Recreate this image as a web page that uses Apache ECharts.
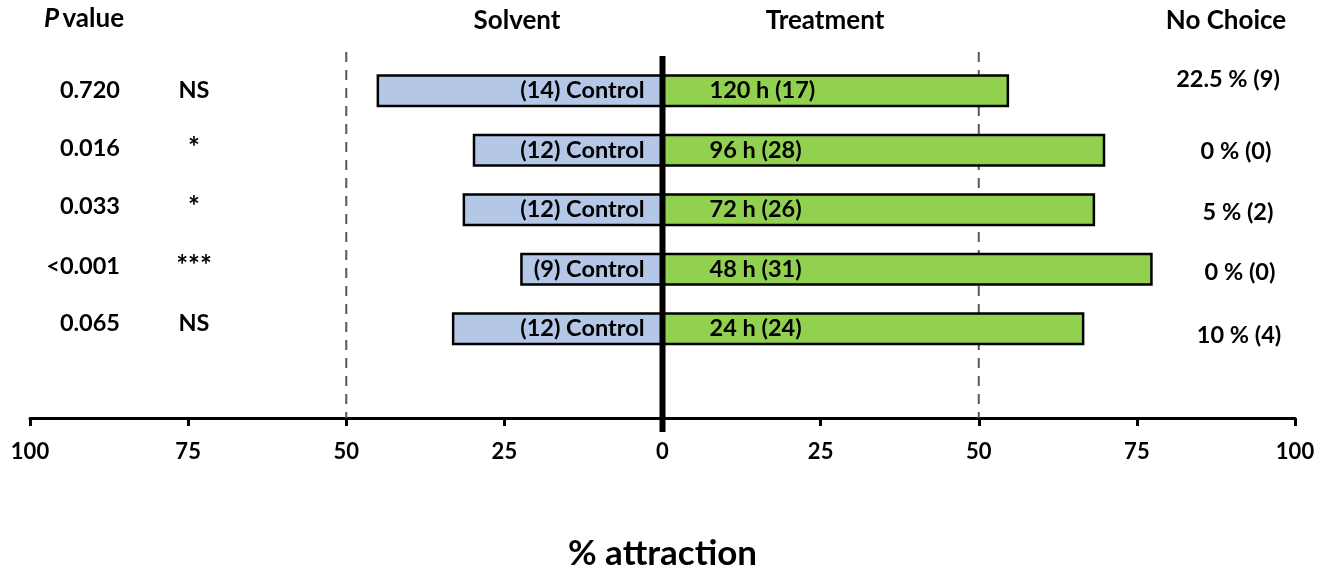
<!DOCTYPE html>
<html>
<head>
<meta charset="utf-8">
<title>% attraction</title>
<script src="https://cdn.jsdelivr.net/npm/echarts@6/dist/echarts.min.js"></script>
<style>
  html, body { margin: 0; padding: 0; background: #ffffff; }
  #chart { width: 1333px; height: 576px; }
</style>
</head>
<body>
<div id="chart"></div>
<script>
// Exposure times, top row first
const categories = ['120 h', '96 h', '72 h', '48 h', '24 h'];
// % of responders choosing each arm
const solventPct = [45.2, 30.0, 31.6, 22.5, 33.3];
const treatmentPct = [54.8, 70.0, 68.4, 77.5, 66.7];
// number of responders per arm
const solventN = [14, 12, 12, 9, 12];
const treatmentN = [17, 28, 26, 31, 24];
// statistics column
const pValues = ['0.720', '0.016', '0.033', '<0.001', '0.065'];
const significance = ['NS', '*', '*', '***', 'NS'];
// non-responders
const noChoice = ['22.5 % (9)', '0 % (0)', '5 % (2)', '0 % (0)', '10 % (4)'];
// axis
const axisMin = -100, axisMax = 100, axisStep = 25;

const FONT = 'Lato';
const BODY = 23.5;
const HEAD = 26;
const TXT = { fontFamily: FONT, fontWeight: 'bold', fontSize: BODY, fill: '#000' };

const chart = echarts.init(document.getElementById('chart'), null, { renderer: 'canvas' });

// one spare slot keeps a gap between the last row and the axis
const yCats = categories.concat(['']);

chart.setOption({
  animation: false,
  backgroundColor: '#ffffff',
  grid: { left: 30, right: 38, top: 61, bottom: 158, containLabel: false },
  xAxis: {
    type: 'value',
    min: axisMin, max: axisMax, interval: axisStep,
    axisLine: { show: true, lineStyle: { color: '#000', width: 3 } },
    axisTick: { show: true, length: 8, lineStyle: { color: '#000', width: 3 } },
    splitLine: { show: false },
    axisLabel: {
      formatter: v => String(Math.abs(v)),
      fontFamily: FONT, fontWeight: 'bold', fontSize: 22, color: '#000', margin: 23
    },
    name: '% attraction',
    nameLocation: 'middle',
    nameGap: 118,
    nameTextStyle: { fontFamily: FONT, fontWeight: 'bold', fontSize: 35, color: '#000' }
  },
  yAxis: {
    type: 'category',
    data: yCats,
    inverse: true,
    axisLine: { show: false },
    axisTick: { show: false },
    axisLabel: { show: false },
    splitLine: { show: false }
  },
  series: [
    {
      name: 'Solvent',
      type: 'bar',
      barWidth: 33,
      barGap: '-100%',
      data: solventPct.map(v => -v),
      itemStyle: { color: '#b4c7e7', borderColor: '#000', borderWidth: 2.5 },
      label: {
        show: true,
        position: 'insideRight',
        distance: 18,
        formatter: p => '(' + solventN[p.dataIndex] + ') Control',
        fontFamily: FONT, fontWeight: 'bold', fontSize: BODY, color: '#000'
      }
    },
    {
      name: 'Treatment',
      type: 'bar',
      barWidth: 33,
      barGap: '-100%',
      data: treatmentPct,
      itemStyle: { color: '#92d050', borderColor: '#000', borderWidth: 2.5 },
      label: {
        show: true,
        position: 'insideLeft',
        distance: 47,
        formatter: p => categories[p.dataIndex] + ' (' + treatmentN[p.dataIndex] + ')',
        fontFamily: FONT, fontWeight: 'bold', fontSize: BODY, color: '#000'
      }
    }
  ]
});

// Reference lines and side columns, placed through the chart's own scales
const xPx = v => chart.convertToPixel({ xAxisIndex: 0 }, v);
const yPx = c => chart.convertToPixel({ yAxisIndex: 0 }, c);
const axisY = yPx(yCats[yCats.length - 1]) + 29.75;

const g = [];
// dashed 50 % guides
[-50, 50].forEach(v => {
  g.push({
    type: 'line', z: 1,
    shape: { x1: xPx(v), y1: 52, x2: xPx(v), y2: axisY },
    style: { stroke: '#595959', lineWidth: 2, lineDash: [10, 8] }
  });
});
// bold zero divider
g.push({
  type: 'line', z: 10,
  shape: { x1: xPx(0), y1: 56, x2: xPx(0), y2: axisY + 14 },
  style: { stroke: '#000', lineWidth: 6 }
});

// column headers
const header = (text, x) => ({
  type: 'text', z: 20,
  style: Object.assign({ text: text, x: x, y: 21, align: 'center', verticalAlign: 'middle' }, TXT, { fontSize: HEAD })
});
g.push({
  type: 'text', z: 20,
  style: { rich: { p: { fontStyle: 'italic', fontFamily: FONT, fontWeight: 'bold', fontSize: HEAD },
                   v: { fontFamily: FONT, fontWeight: 'bold', fontSize: HEAD } },
           text: '{p|P} {v|value}', x: 84, y: 19, align: 'center', verticalAlign: 'middle', fill: '#000' }
});
g.push(header('Solvent', 517));
g.push(header('Treatment', 825));
g.push(header('No Choice', 1226));

const pDy = [0, -2, -3, -3, -5];
const ncDx = [-8, 0, 2, 4, 3];
const ncDy = [-11, 1, 3, 3, 7];
categories.forEach((c, i) => {
  const y = yPx(c);
  g.push({ type: 'text', z: 20, style: Object.assign({ text: pValues[i], x: 120, y: y + pDy[i], align: 'right', verticalAlign: 'middle' }, TXT) });
  g.push({ type: 'text', z: 20, style: Object.assign({ text: significance[i], x: 194, y: y + pDy[i], align: 'center', verticalAlign: 'middle' }, TXT, significance[i].charAt(0) === '*' ? { fontSize: 28 } : {}) });
  g.push({ type: 'text', z: 20, style: Object.assign({ text: noChoice[i], x: 1236 + ncDx[i], y: y + ncDy[i], align: 'center', verticalAlign: 'middle' }, TXT) });
});

chart.setOption({ graphic: g });
</script>
</body>
</html>
